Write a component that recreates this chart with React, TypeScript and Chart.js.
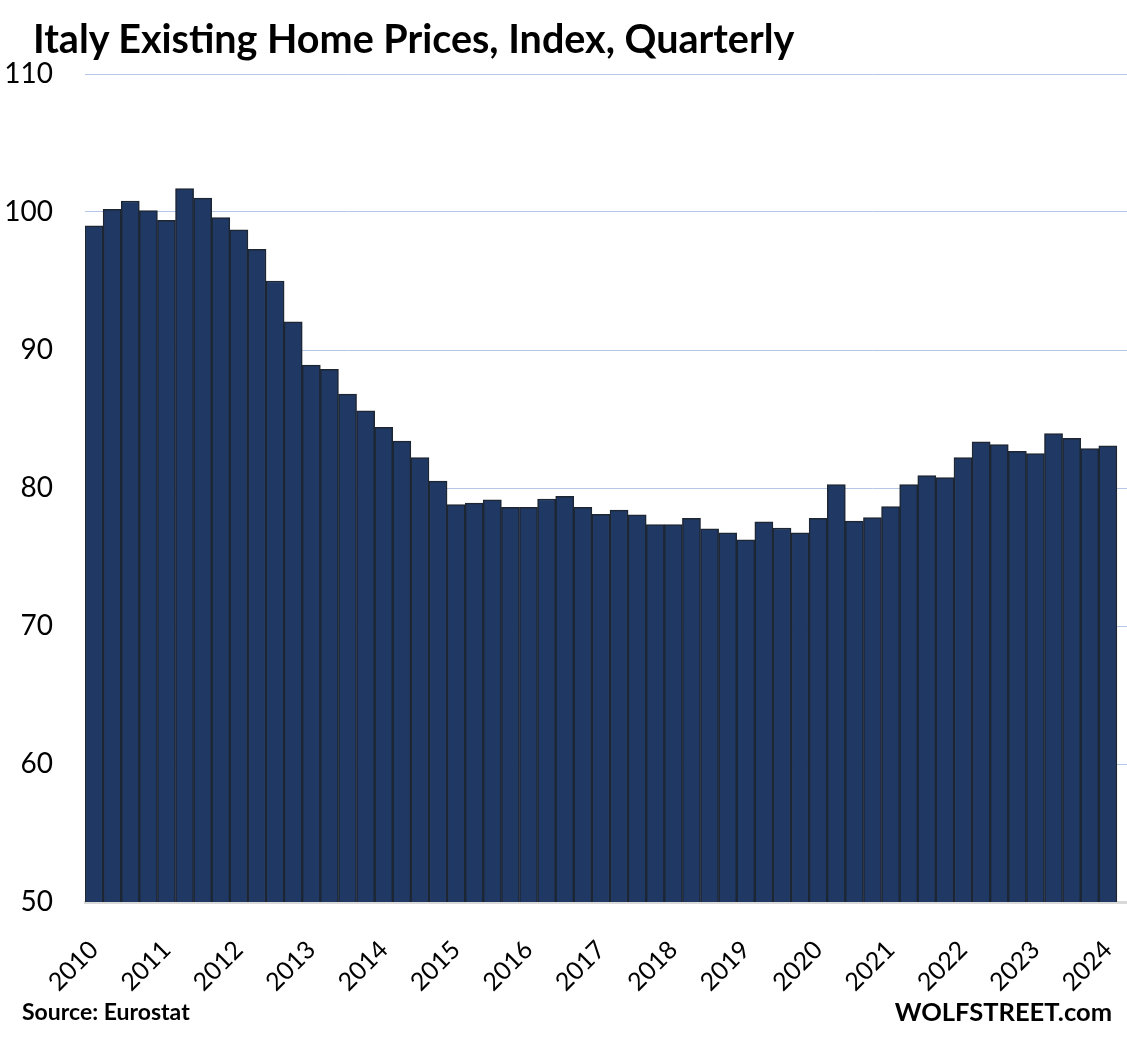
import React, { useEffect, useRef } from "react";
import { Chart, registerables } from "chart.js";

Chart.register(...registerables);

const years = [2010, 2011, 2012, 2013, 2014, 2015, 2016, 2017, 2018, 2019, 2020, 2021, 2022, 2023, 2024];
const quarters = ["Q1", "Q2", "Q3", "Q4"];

// Quarterly index values, 2010 Q1 .. 2024 Q1
const indexValues = [
  99.0, 100.2, 100.8, 100.1,
  99.4, 101.7, 101.0, 99.6,
  98.7, 97.3, 95.0, 92.05,
  88.9, 88.6, 86.8, 85.6,
  84.4, 83.4, 82.2, 80.5,
  78.8, 78.9, 79.15, 78.6,
  78.6, 79.2, 79.4, 78.6,
  78.1, 78.4, 78.05, 77.35,
  77.35, 77.8, 77.05, 76.75,
  76.25, 77.55, 77.1, 76.75,
  77.8, 80.25, 77.6, 77.85,
  78.65, 80.25, 80.9, 80.75,
  82.2, 83.35, 83.15, 82.65,
  82.5, 83.95, 83.6, 82.85,
  83.05,
];

const yTicks = [50, 60, 70, 80, 90, 100, 110];

const TITLE = "Italy Existing Home Prices, Index, Quarterly";
const SOURCE = "Source: Eurostat";
const BRAND = "WOLFSTREET.com";

// category labels: every quarter 2010 Q1 .. 2024 Q2 (the last quarter is still empty)
const categories: string[] = [];
years.forEach((y) => quarters.forEach((q) => categories.push(`${y} ${q}`)));
const shownCategories = categories.slice(0, indexValues.length + 1);
const seriesData: (number | null)[] = shownCategories.map((_, i) =>
  i < indexValues.length ? indexValues[i] : null
);

const W = 1145;
const H = 1038;
const FONT = "Lato, 'Open Sans', sans-serif";

export default function App() {
  const ref = useRef<HTMLCanvasElement>(null);

  useEffect(() => {
    if (!ref.current) return;
    const chart = new Chart(ref.current, {
      type: "bar",
      data: {
        labels: shownCategories,
        datasets: [
          {
            data: seriesData,
            backgroundColor: "#203864",
            borderColor: "#1d2633",
            borderWidth: 1.5,
            barPercentage: 1,
            categoryPercentage: 1,
          },
        ],
      },
      options: {
        animation: false,
        responsive: false,
        devicePixelRatio: 1,
        layout: { padding: { top: 74, right: 10, left: 0, bottom: 0 } },
        plugins: {
          legend: { display: false },
          tooltip: { enabled: false },
          title: { display: false },
        },
        scales: {
          x: {
            type: "category",
            grid: { display: false },
            border: { display: true, color: "#d9d9d9", width: 3 },
            ticks: {
              autoSkip: false,
              minRotation: 45,
              maxRotation: 45,
              padding: 25,
              color: "#000",
              font: { family: FONT, size: 25 },
              callback: (_v: any, i: number) =>
                i % 4 === 0 && i < indexValues.length ? shownCategories[i].slice(0, 4) : "",
            },
            afterFit: (s: any) => {
              s.height = H - 902;
              s.paddingRight = 0;
              s.paddingLeft = 0;
            },
          },
          y: {
            min: 50,
            max: 110,
            afterBuildTicks: (s: any) => {
              s.ticks = yTicks.map((v) => ({ value: v }));
            },
            grid: {
              color: (c: any) => (c.tick && c.tick.value === 50 ? "rgba(0,0,0,0)" : "#b4c7e7"),
              lineWidth: 1,
              drawTicks: false,
            },
            border: { display: false },
            ticks: {
              padding: 32,
              color: "#000",
              font: { family: FONT, size: 28 },
            },
            afterFit: (s: any) => {
              s.width = 85;
            },
          },
        },
      },
    });
    return () => chart.destroy();
  }, []);

  return (
    <div
      style={{
        position: "fixed",
        left: 0,
        top: 0,
        width: 1127,
        height: 1038,
        overflow: "hidden",
        background: "#fff",
      }}
    >
      <canvas
        ref={ref}
        width={W}
        height={H}
        style={{ position: "absolute", left: 0, top: 0, width: W, height: H }}
      />
      <div
        style={{
          position: "absolute",
          left: 33,
          top: 15,
          fontFamily: FONT,
          fontWeight: 700,
          fontSize: 39.5,
          lineHeight: "46px",
          whiteSpace: "nowrap",
          color: "#000",
        }}
      >
        {TITLE}
      </div>
      <div
        style={{
          position: "absolute",
          left: 22,
          top: 997,
          fontFamily: FONT,
          fontWeight: 700,
          fontSize: 23,
          lineHeight: "29px",
          whiteSpace: "nowrap",
          color: "#000",
        }}
      >
        {SOURCE}
      </div>
      <div
        style={{
          position: "absolute",
          right: 1127 - 1112,
          top: 995,
          fontFamily: FONT,
          fontWeight: 700,
          fontSize: 25.5,
          lineHeight: "32px",
          whiteSpace: "nowrap",
          color: "#000",
        }}
      >
        {BRAND}
      </div>
    </div>
  );
}
